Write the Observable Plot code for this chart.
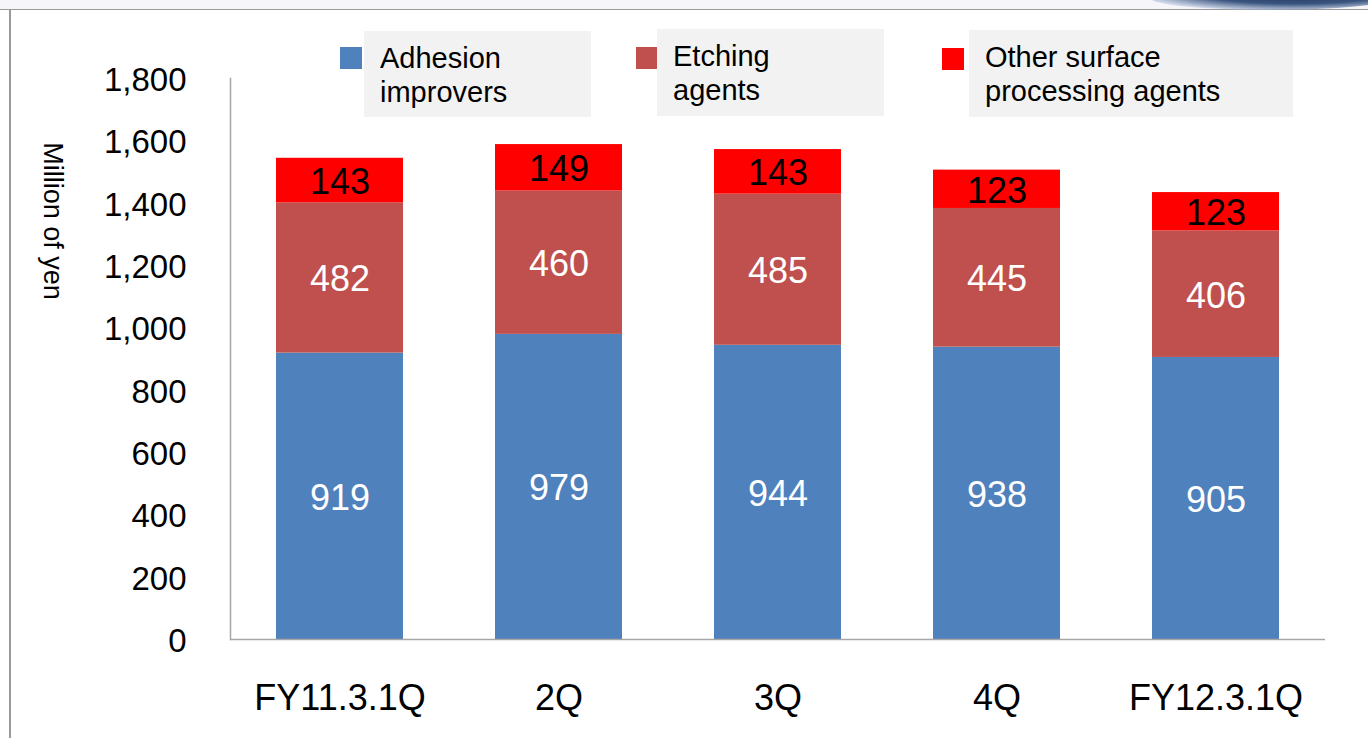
<!DOCTYPE html>
<html>
<head>
<meta charset="utf-8">
<script src="https://cdn.jsdelivr.net/npm/d3@7"></script>
<script src="https://cdn.jsdelivr.net/npm/@observablehq/plot@0.6"></script>
<style>
  html, body { margin: 0; padding: 0; background: #fff; }
  body { width: 1368px; height: 738px; position: relative; overflow: hidden; font-family: "Liberation Sans", Arial, sans-serif; }
  #topband { position: absolute; left: 0; top: 0; width: 1368px; height: 9px; background: #f5f5fa; border-bottom: 1.5px solid #9a9a9a; }
  #swoosh { position: absolute; left: 1150px; top: -14px; width: 240px; height: 24px; border-radius: 50%;
    background: radial-gradient(ellipse at 60% 30%, #1d2f55 0%, #3a5580 45%, rgba(180,195,220,0.6) 75%, rgba(255,255,255,0) 100%); }
  #leftline { position: absolute; left: 9px; top: 9px; width: 1.5px; height: 729px; background: #9a9a9a; }
  #chart { position: absolute; left: 0; top: 0; }
  .lg-sw { position: absolute; width: 22px; height: 22px; }
  .lg-box { position: absolute; background: #f2f2f2; font-size: 29px; line-height: 34px; color: #000; padding: 10px 0 0 16px; box-sizing: border-box; }
  #ylabel { position: absolute; left: 52px; top: 221px; transform: translate(-50%, -50%) rotate(90deg); font-size: 27px; white-space: nowrap; color: #000; }
</style>
</head>
<body>
<div id="topband"></div>
<div id="swoosh"></div>
<div id="leftline"></div>
<div id="chart"></div>
<div id="ylabel">Million of yen</div>
<div id="legend"></div>
<script>
const categories = ["FY11.3.1Q", "2Q", "3Q", "4Q", "FY12.3.1Q"];
const seriesNames = ["Adhesion improvers", "Etching agents", "Other surface processing agents"];
const legendLines = [["Adhesion", "improvers"], ["Etching", "agents"], ["Other surface", "processing agents"]];
const adhesion = [919, 979, 944, 938, 905];
const etching = [482, 460, 485, 445, 406];
const other = [143, 149, 143, 123, 123];
const yTicks = [0, 200, 400, 600, 800, 1000, 1200, 1400, 1600, 1800];
const colors = ["#4f81bd", "#c0504d", "#ff0000"];
const labelColors = ["#ffffff", "#ffffff", "#000000"];

const seriesValues = [adhesion, etching, other];
const data = [];
seriesValues.forEach((vals, si) => {
  vals.forEach((v, ci) => data.push({category: categories[ci], series: seriesNames[si], value: v, order: si}));
});

const chart = Plot.plot({
  width: 1368,
  height: 738,
  marginLeft: 230,
  marginRight: 43,
  marginTop: 78,
  marginBottom: 99,
  style: { fontFamily: "'Liberation Sans', Arial, sans-serif", background: "transparent", color: "#000" },
  x: { domain: categories, paddingInner: 0.42, paddingOuter: 0.21, label: null },
  y: { domain: [0, 1800], label: null },
  color: { domain: seriesNames, range: colors },
  marks: [
    Plot.barY(data, Plot.stackY({x: "category", y: "value", fill: "series", order: seriesNames})),
    Plot.text(data, Plot.stackY({x: "category", y: "value", z: "series", order: seriesNames, text: d => String(d.value),
      fill: d => labelColors[d.order], fontSize: 36, dy: 2})),
    Plot.frame({anchor: "left", stroke: "#a6a6a6", strokeWidth: 1.5}),
    Plot.ruleY([0], {stroke: "#a6a6a6", strokeWidth: 1.5}),
    Plot.axisY({ticks: yTicks, tickFormat: d3.format(","), tickSize: 0, tickPadding: 44, fontSize: 33, dy: 2}),
    Plot.axisX({tickSize: 0, tickPadding: 45, fontSize: 36})
  ]
});
document.getElementById("chart").appendChild(chart);

// legend
const legend = document.getElementById("legend");
const lgPos = [
  {sw: [340, 47], box: [364, 31, 227, 86]},
  {sw: [636, 47], box: [657, 29, 227, 87]},
  {sw: [942, 48], box: [969, 30, 324, 87]}
];
seriesNames.forEach((s, i) => {
  const sw = document.createElement("div");
  sw.className = "lg-sw";
  sw.style.left = lgPos[i].sw[0] + "px";
  sw.style.top = lgPos[i].sw[1] + "px";
  sw.style.background = colors[i];
  legend.appendChild(sw);
  const box = document.createElement("div");
  box.className = "lg-box";
  box.style.left = lgPos[i].box[0] + "px";
  box.style.top = lgPos[i].box[1] + "px";
  box.style.width = lgPos[i].box[2] + "px";
  box.style.height = lgPos[i].box[3] + "px";
  box.innerHTML = legendLines[i].join("<br>");
  legend.appendChild(box);
});
</script>
</body>
</html>
